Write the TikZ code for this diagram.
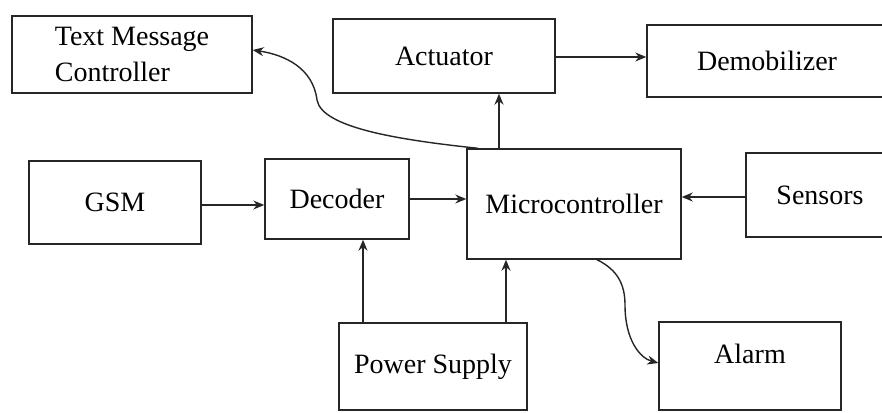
\documentclass[tikz,border=0pt]{standalone}
\usepackage{fontspec}
\setmainfont{LiberationSerif-Regular.ttf}
\usetikzlibrary{arrows.meta}
\begin{document}
\begin{tikzpicture}[x=1pt,y=-1pt,
  box/.style={draw=black!85,line width=1.4pt,rectangle,inner sep=0pt,
    font=\fontsize{28}{36}\selectfont},
  arr/.style={draw=black!85,line width=1.4pt,-{Stealth[length=11pt,width=9pt]}},
  conn/.style={draw=black!85,line width=1.4pt}]
\clip (0,0) rectangle (882,412);
\fill[white] (0,0) rectangle (882,412);
\node[box,minimum width=240pt,minimum height=77pt,align=left] (tmc) at (132,54.5) {Text Message\\Controller};
\node[box,minimum width=222pt,minimum height=74pt] (act) at (444,56) {Actuator};
\node[box,minimum width=240pt,minimum height=72pt] (dem) at (767,61) {Demobilizer};
\node[box,minimum width=172pt,minimum height=83pt] (gsm) at (115,202.5) {GSM};
\node[box,minimum width=144pt,minimum height=80pt] (dec) at (337,199) {Decoder};
\node[box,minimum width=214pt,minimum height=110pt] (mic) at (574,204) {Microcontroller};
\node[box,minimum width=148pt,minimum height=84pt] (sen) at (820,195) {Sensors};
\node[box,minimum width=188pt,minimum height=87pt] (pow) at (433,366.5) {Power Supply};
\node[box,minimum width=182pt,minimum height=88pt,text depth=24pt] (alm) at (750,366) {Alarm};
\draw[arr] (gsm.east |- 0,205) -- (dec.west |- 0,205);
\draw[arr] (dec.east |- 0,199) -- (mic.west |- 0,199);
\draw[arr] (sen.west |- 0,197) -- (mic.east |- 0,197);
\draw[arr] (mic.north -| 499,0) -- (act.south -| 499,0);
\draw[arr] (act.east |- 0,57) -- (dem.west |- 0,57);
\draw[arr] (pow.north -| 363,0) -- (dec.south -| 363,0);
\draw[arr] (pow.north -| 506,0) -- (mic.south -| 506,0);
\draw[arr] (mic.north -| 478,0) .. controls (400,140) and (322,128) .. (317,100)
  .. controls (313,68) and (285,55) .. (tmc.east |- 0,50);
\draw[arr] (mic.south -| 597,0) .. controls (618,270) and (625,285) .. (625,305)
  .. controls (625,340) and (640,358) .. (alm.west |- 0,363);
\end{tikzpicture}
\end{document}
